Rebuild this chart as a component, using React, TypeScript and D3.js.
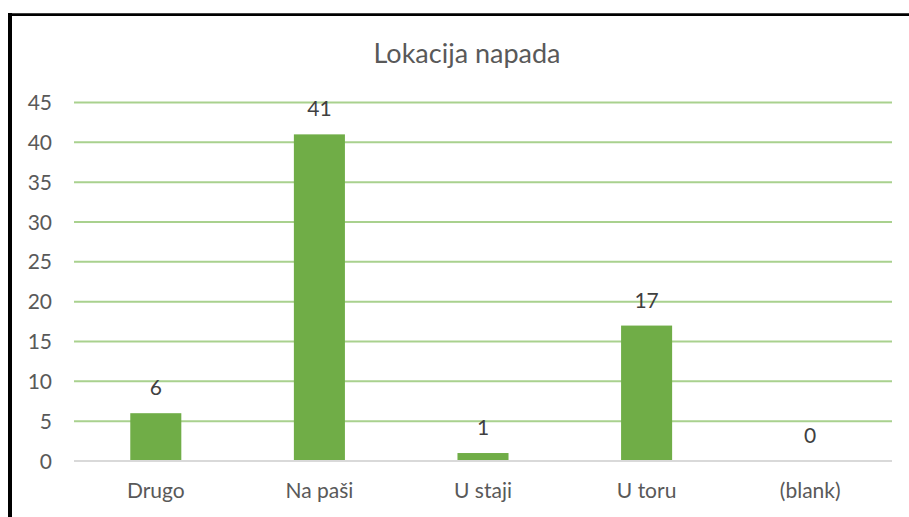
import { useEffect, useRef } from 'react';
import * as d3 from 'd3';

// chart data
const categories = ['Drugo', 'Na paši', 'U staji', 'U toru', '(blank)'];
const values = [6, 41, 1, 17, 0];
const yTicks = [0, 5, 10, 15, 20, 25, 30, 35, 40, 45];
const title = 'Lokacija napada';

const W = 909;
const H = 517;
const FONT = 'Lato, Carlito, Calibri, "Open Sans", sans-serif';

export default function App() {
  const svgRef = useRef<SVGSVGElement>(null);

  useEffect(() => {
    if (!svgRef.current) return;
    const svg = d3.select(svgRef.current);
    svg.selectAll('*').remove();

    const plot = { left: 74, right: 892, top: 102.5, bottom: 461 };

    const x = d3.scaleBand<string>()
      .domain(categories)
      .range([plot.left, plot.right])
      .paddingInner(0.688)
      .paddingOuter(0.344);

    const y = d3.scaleLinear()
      .domain([0, 45])
      .range([plot.bottom, plot.top]);

    // white background
    svg.append('rect')
      .attr('width', W)
      .attr('height', H)
      .attr('fill', '#ffffff');

    // chart frame (only top & left are visible)
    svg.append('line')
      .attr('x1', 10).attr('x2', 10)
      .attr('y1', 13).attr('y2', H + 10)
      .attr('stroke', '#000').attr('stroke-width', 4);
    svg.append('line')
      .attr('x1', 8).attr('x2', W + 10)
      .attr('y1', 14.6).attr('y2', 14.6)
      .attr('stroke', '#000').attr('stroke-width', 2.8);

    // title
    svg.append('text')
      .attr('x', 467)
      .attr('y', 63)
      .attr('text-anchor', 'middle')
      .attr('font-family', FONT)
      .attr('font-size', '27px')
      .attr('fill', '#595959')
      .text(title);

    // gridlines
    svg.append('g')
      .selectAll('line')
      .data(yTicks.filter(t => t > 0))
      .join('line')
      .attr('x1', plot.left)
      .attr('x2', plot.right)
      .attr('y1', d => y(d))
      .attr('y2', d => y(d))
      .attr('stroke', '#a9d18e')
      .attr('stroke-width', 2);

    // y tick labels
    svg.append('g')
      .selectAll('text')
      .data(yTicks)
      .join('text')
      .attr('x', 52)
      .attr('y', d => y(d) + 7.5)
      .attr('text-anchor', 'end')
      .attr('font-family', FONT)
      .attr('font-size', '21px')
      .attr('fill', '#595959')
      .text(d => d);

    // bars
    svg.append('g')
      .selectAll('rect')
      .data(values)
      .join('rect')
      .attr('x', (d, i) => x(categories[i])!)
      .attr('y', d => y(d))
      .attr('width', x.bandwidth())
      .attr('height', d => y(0) - y(d))
      .attr('fill', '#70ad47');

    // baseline axis
    svg.append('line')
      .attr('x1', plot.left)
      .attr('x2', plot.right)
      .attr('y1', y(0))
      .attr('y2', y(0))
      .attr('stroke', '#d9d9d9')
      .attr('stroke-width', 2);

    // data labels
    svg.append('g')
      .selectAll('text')
      .data(values)
      .join('text')
      .attr('x', (d, i) => x(categories[i])! + x.bandwidth() / 2)
      .attr('y', d => y(d) - 18)
      .attr('text-anchor', 'middle')
      .attr('font-family', FONT)
      .attr('font-size', '21px')
      .attr('fill', '#404040')
      .text(d => d);

    // category labels
    svg.append('g')
      .selectAll('text')
      .data(categories)
      .join('text')
      .attr('x', d => x(d)! + x.bandwidth() / 2)
      .attr('y', 498)
      .attr('text-anchor', 'middle')
      .attr('font-family', FONT)
      .attr('font-size', '21px')
      .attr('fill', '#595959')
      .text(d => d);
  }, []);

  return (
    <svg
      ref={svgRef}
      width={W}
      height={H}
      style={{ position: 'absolute', left: 0, top: 0, display: 'block' }}
    />
  );
}
